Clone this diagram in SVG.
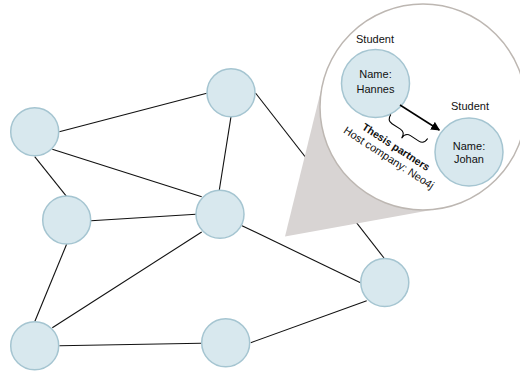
<svg xmlns="http://www.w3.org/2000/svg" width="520" height="373" viewBox="0 0 520 373">
  <style>
    .node { fill: #d8e8ee; stroke: #a5c5d1; stroke-width: 1.5; }
    .edge { stroke: #111; stroke-width: 1.1; fill: none; }
    .lbl { font-family: "Liberation Sans", Arial, sans-serif; font-size: 11px; fill: #111; text-anchor: middle; }
    .bold { font-weight: bold; font-size: 10.5px; }
  </style>
  <defs>
    <marker id="arrowhead" viewBox="0 0 10 10" refX="9" refY="5" markerWidth="6" markerHeight="6" orient="auto" markerUnits="strokeWidth">
      <path d="M0,0 L10,5 L0,10 z" fill="#000"/>
    </marker>
  </defs>
  <rect width="520" height="373" fill="#fff"/>

  <!-- connectors of the overview graph -->
  <g id="connectors">
    <line class="edge" x1="59.3" y1="131.7" x2="206.7" y2="93.3"/>
    <line class="edge" x1="52.3" y1="149.3" x2="201.7" y2="196.7"/>
    <line class="edge" x1="34.7" y1="156.7" x2="66.7" y2="196.7"/>
    <line class="edge" x1="91" y1="220.7" x2="196" y2="214.3"/>
    <line class="edge" x1="66.7" y1="244" x2="34.7" y2="321.7"/>
    <line class="edge" x1="231" y1="116.7" x2="219.3" y2="190"/>
    <line class="edge" x1="255.5" y1="93" x2="384" y2="258"/>
    <line class="edge" x1="242" y1="225.7" x2="360.5" y2="282.7"/>
    <line class="edge" x1="201.7" y1="232" x2="52.3" y2="327.7"/>
    <line class="edge" x1="59.3" y1="345.7" x2="201" y2="343.3"/>
    <line class="edge" x1="250.7" y1="342.7" x2="366.7" y2="300.7"/>
  </g>

  <!-- nodes of the overview graph -->
  <g id="n1"><circle class="node" cx="34.7" cy="131.7" r="24"/></g>
  <g id="n2"><circle class="node" cx="231" cy="92.7" r="24"/></g>
  <g id="n3"><circle class="node" cx="66.7" cy="220" r="24"/></g>
  <g id="n4"><circle class="node" cx="220" cy="214.2" r="24"/></g>
  <g id="n5"><circle class="node" cx="34.7" cy="345.7" r="24"/></g>
  <g id="n6"><circle class="node" cx="225.7" cy="342.7" r="24"/></g>
  <g id="n7"><circle class="node" cx="384.8" cy="282.5" r="24"/></g>

  <!-- magnifier callout -->
  <g id="magnifier">
    <polygon points="285,236.5 441,208.2 423,107 323,82.2" fill="#d8d4d3"/>
    <circle cx="423" cy="107" r="103" fill="#fff" stroke="#bdb7b2" stroke-width="1.5"/>
  </g>

  <g id="hannes">
    <circle class="node" cx="375.5" cy="83.5" r="34"/>
    <text class="lbl" x="375" y="42.5">Student</text>
    <text class="lbl" x="375.5" y="78">Name:</text>
    <text class="lbl" x="375.5" y="92.5">Hannes</text>
  </g>
  <g id="johan">
    <circle class="node" cx="469" cy="152" r="34"/>
    <text class="lbl" x="470" y="109.5">Student</text>
    <text class="lbl" x="469" y="149.5">Name:</text>
    <text class="lbl" x="469" y="163">Johan</text>
  </g>

  <g id="relationship">
    <line x1="400" y1="105" x2="439.3" y2="130" stroke="#000" stroke-width="1.5" marker-end="url(#arrowhead)"/>
    <g transform="translate(394,150) rotate(33)">
      <path d="M-22,-28 q0,7 6,7 h10 q6,0 6,7 q0,-7 6,-7 h10 q6,0 6,-7" fill="none" stroke="#000" stroke-width="1.1"/>
      <text class="lbl bold" x="0" y="0">Thesis partners</text>
      <text class="lbl" x="0" y="13">Host company: Neo4j</text>
    </g>
  </g>
</svg>
